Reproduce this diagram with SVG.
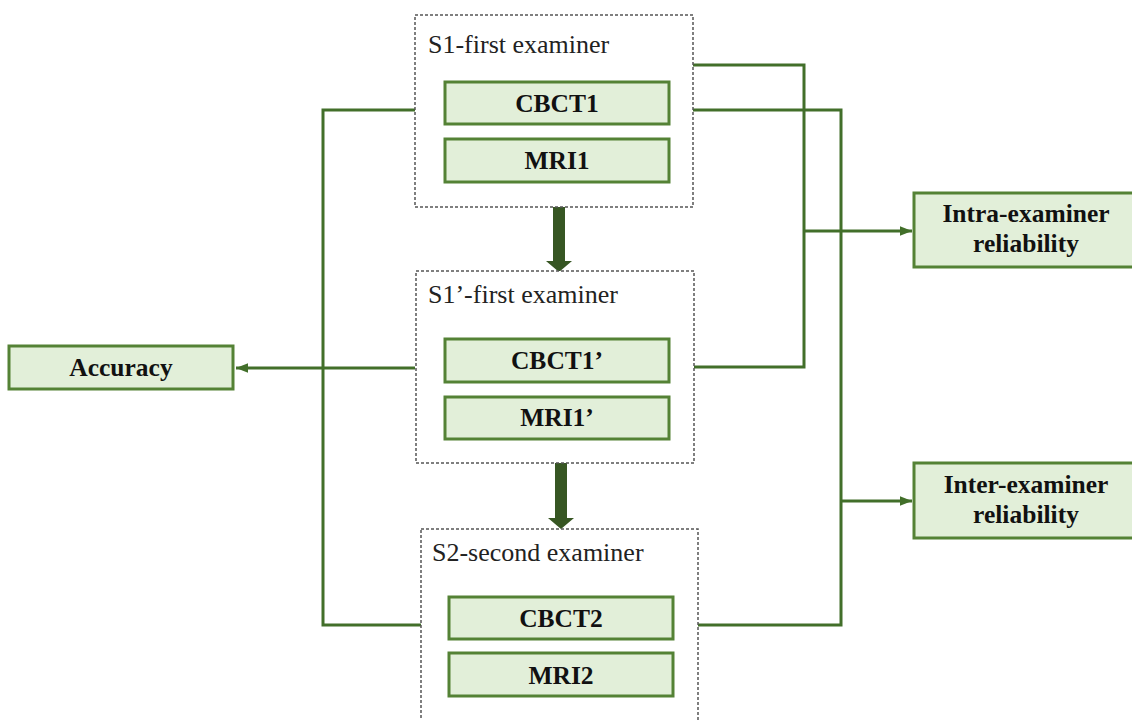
<svg xmlns="http://www.w3.org/2000/svg" width="1132" height="720" viewBox="0 0 1132 720">
<defs>
<style>
.grp{fill:#ffffff;stroke:#555555;stroke-width:1.5;stroke-dasharray:3 2}
.box{fill:#e2efd9;stroke:#548235;stroke-width:3}
.ttl{font-family:"Liberation Serif","Times New Roman",serif;font-size:26px;fill:#222222}
.lbl{font-family:"Liberation Serif","Times New Roman",serif;font-size:25.5px;font-weight:bold;fill:#111111;text-anchor:middle}
.conn{fill:none;stroke:#426f2a;stroke-width:3}
.big{fill:#375623}
</style>
<marker id="ah" viewBox="0 0 10 10" refX="10" refY="5" markerWidth="4" markerHeight="4" orient="auto" markerUnits="strokeWidth">
<path d="M0,1 L10,5 L0,9 Z" fill="#426f2a"/>
</marker>
</defs>
<rect width="1132" height="720" fill="#ffffff"/>
<g id="connectors">
<path class="conn" d="M415,110 H323 V625 H421"/>
<path class="conn" d="M415,368 H236" marker-end="url(#ah)"/>
<path class="conn" d="M693,65 H804 V367 H694"/>
<path class="conn" d="M693,110 H841 V625 H698"/>
<path class="conn" d="M804,231 H912" marker-end="url(#ah)"/>
<path class="conn" d="M841,501 H912" marker-end="url(#ah)"/>
<path class="big" d="M553,207 H565 V261 H572 L559,272 L546,261 H553 Z"/>
<path class="big" d="M555,463 H567 V518 H574 L561,529 L548,518 H555 Z"/>
</g>
<g id="s1">
<rect class="grp" x="415" y="15" width="278" height="192"/>
<text class="ttl" x="428" y="53">S1-first examiner</text>
</g>
<g id="cbct1"><rect class="box" x="445" y="82" width="224" height="42"/><text class="lbl" x="557" y="112">CBCT1</text></g>
<g id="mri1"><rect class="box" x="445" y="139" width="224" height="43"/><text class="lbl" x="557" y="169">MRI1</text></g>
<g id="s1p">
<rect class="grp" x="416" y="271" width="278" height="192"/>
<text class="ttl" x="428" y="303">S1’-first examiner</text>
</g>
<g id="cbct1p"><rect class="box" x="445" y="339" width="224" height="43"/><text class="lbl" x="557" y="369">CBCT1’</text></g>
<g id="mri1p"><rect class="box" x="445" y="397" width="224" height="42"/><text class="lbl" x="557" y="426">MRI1’</text></g>
<g id="s2">
<rect class="grp" x="421" y="529" width="277" height="200"/>
<text class="ttl" x="432" y="561">S2-second examiner</text>
</g>
<g id="cbct2"><rect class="box" x="449" y="597" width="224" height="42"/><text class="lbl" x="561" y="627">CBCT2</text></g>
<g id="mri2"><rect class="box" x="449" y="653" width="224" height="43"/><text class="lbl" x="561" y="684">MRI2</text></g>
<g id="accuracy"><rect class="box" x="9" y="346" width="224" height="43"/><text class="lbl" x="121" y="376">Accuracy</text></g>
<g id="intra"><rect class="box" x="914" y="193" width="220" height="74"/><text class="lbl" x="1026" y="222">Intra-examiner</text><text class="lbl" x="1026" y="252">reliability</text></g>
<g id="inter"><rect class="box" x="914" y="463" width="220" height="75"/><text class="lbl" x="1026" y="493">Inter-examiner</text><text class="lbl" x="1026" y="523">reliability</text></g>
</svg>
